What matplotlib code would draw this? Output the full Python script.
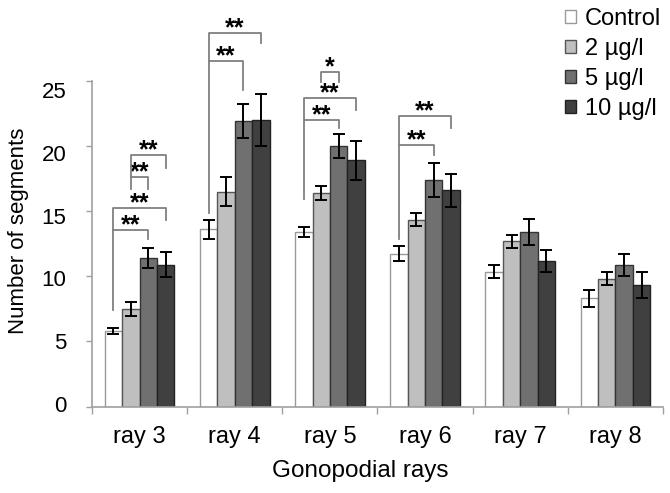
import matplotlib
matplotlib.use("Agg")
import matplotlib.pyplot as plt
import matplotlib.transforms as mtransforms
import numpy as np

plt.rcParams['font.family'] = ['Liberation Sans', 'DejaVu Sans']

categories = ["ray 3", "ray 4", "ray 5", "ray 6", "ray 7", "ray 8"]
series_names = ["Control", "2 µg/l", "5 µg/l", "10 µg/l"]
control = [5.8, 13.6, 13.4, 11.75, 10.35, 8.3]
c2 = [7.5, 16.5, 16.4, 14.35, 12.7, 9.8]
c5 = [11.4, 21.9, 20.0, 17.4, 13.4, 10.9]
c10 = [10.9, 22.0, 18.9, 16.6, 11.2, 9.3]
control_err = [0.25, 0.7, 0.4, 0.6, 0.5, 0.65]
c2_err = [0.55, 1.1, 0.55, 0.5, 0.5, 0.5]
c5_err = [0.8, 1.3, 0.9, 1.3, 1.0, 0.85]
c10_err = [0.95, 2.0, 1.5, 1.25, 0.85, 1.0]
yticks = [0, 5, 10, 15, 20, 25]

# significance brackets: (group, bar_a, bar_b, top, left_bottom, right_bottom, label)
brackets = [
    (0, 0, 2, 13.55, 7.4, 12.9, "**"),
    (0, 0, 3, 15.27, 13.55, 14.3, "**"),
    (0, 1, 2, 17.65, 16.7, 16.7, "**"),
    (0, 1, 3, 19.3, 17.65, 18.3, "**"),
    (1, 0, 2, 26.5, 14.9, 24.3, "**"),
    (1, 0, 3, 28.65, 26.5, 27.9, "**"),
    (2, 0, 2, 22.0, 15.9, 21.4, "**"),
    (2, 0, 3, 23.7, 22.0, 22.8, "**"),
    (2, 1, 2, 25.66, 24.95, 24.95, "*"),
    (3, 0, 2, 20.06, 12.84, 19.3, "**"),
    (3, 0, 3, 22.3, 20.06, 21.37, "**"),
]

values = [control, c2, c5, c10]
errors = [control_err, c2_err, c5_err, c10_err]
faces = ["#ffffff", "#bfbfbf", "#707070", "#404040"]
edges = ["#9a9a9a", "#555555", "#333333", "#222222"]

fig = plt.figure(figsize=(6.70, 4.93), dpi=100)
ax = fig.add_axes([92/670, 1-406.5/493, 571/670, (406.5-81)/493])

x = np.arange(len(categories))
w = 0.183
for i in range(4):
    ax.bar(x + (i - 1.5) * w, values[i], w, color=faces[i], edgecolor=edges[i],
           linewidth=1.0, label=series_names[i], zorder=2)
    ax.errorbar(x + (i - 1.5) * w, values[i], yerr=errors[i], fmt='none',
                ecolor='black', elinewidth=1.4, capsize=4, capthick=1.4, zorder=3)

bc = "#808080"
for g, a, b, top, lb, rb, lab in brackets:
    xa = g + (a - 1.5) * w
    xb = g + (b - 1.5) * w
    ax.plot([xa, xa, xb, xb], [lb, top, top, rb], color=bc, lw=1.3,
            clip_on=False, zorder=4)
    ax.annotate(lab, xy=((xa + xb) / 2, top), xytext=(0, -1.6),
                textcoords='offset points', ha='center', va='baseline',
                fontsize=18, fontweight='bold', annotation_clip=False)

ax.set_xlim(-0.5, len(categories) - 0.5)
ax.set_ylim(0, 25)
ax.set_yticks(yticks)
ax.set_xticks(x)
ax.set_xticklabels(categories, fontsize=17)
ax.set_xticks(np.arange(len(categories) + 1) - 0.5, minor=True)
ax.tick_params(axis='x', which='major', length=0, pad=14)
ax.tick_params(axis='x', which='minor', length=5, color='#a0a0a0', width=1)
ax.tick_params(axis='y', length=4, color='#a0a0a0', width=1, labelsize=16, pad=14.5)

# the original's y labels sit on a slightly compressed scale relative to the ticks
for v, lbl in zip(yticks, ax.get_yticklabels()):
    dy_px = -2.5 + 0.46 * v
    lbl.set_transform(lbl.get_transform() +
                      mtransforms.ScaledTranslation(0, -dy_px / 100, fig.dpi_scale_trans))

for s in ['top', 'right']:
    ax.spines[s].set_visible(False)
for s in ['left', 'bottom']:
    ax.spines[s].set_color('#a0a0a0')
    ax.spines[s].set_linewidth(1.2)

ax.set_xlabel("Gonopodial rays", fontsize=17.5)
ax.xaxis.set_label_coords(0.469, -0.163)
ax.set_ylabel("Number of segments", fontsize=16)
ax.yaxis.set_label_coords(-0.11, 0.54)

fig.legend(loc='upper left', bbox_to_anchor=(565/670, 1 - 8/493), frameon=False,
           fontsize=17, handlelength=0.47, handleheight=0.47, handletextpad=0.38,
           labelspacing=0.34, borderpad=0, borderaxespad=0)

fig.savefig("out.png", dpi=100)
